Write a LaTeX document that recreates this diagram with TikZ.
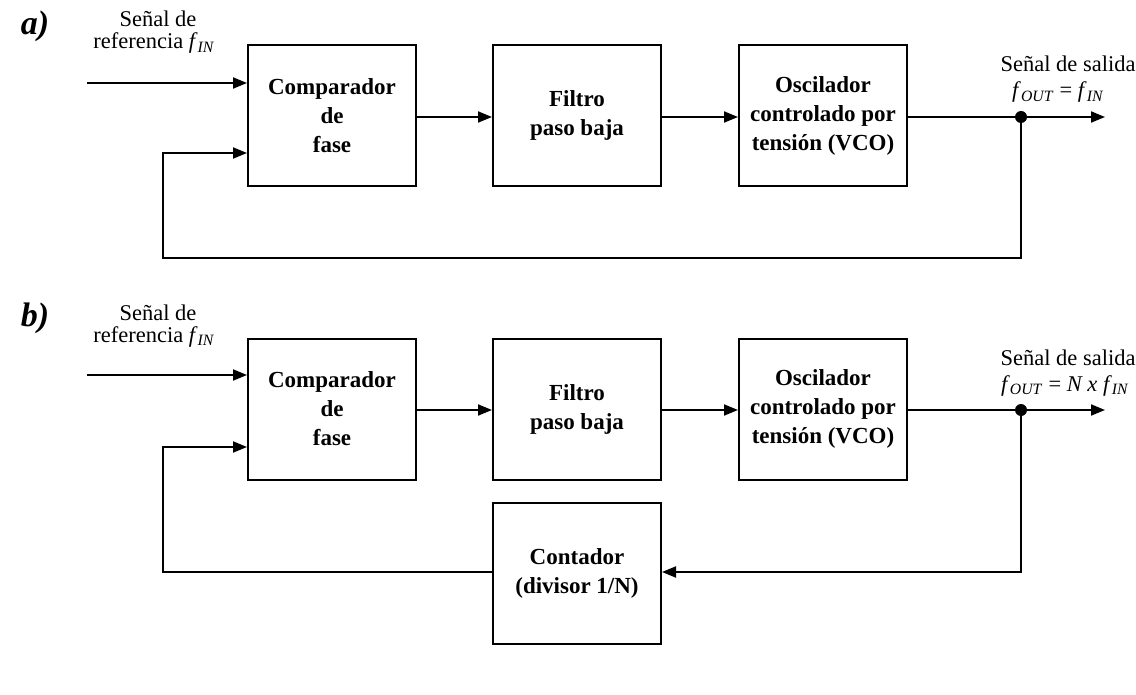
\documentclass[tikz,border=0pt]{standalone}
\usepackage{fontspec}
\setmainfont{Liberation Serif}
\usetikzlibrary{arrows.meta}
\begin{document}
\begin{tikzpicture}[x=1pt,y=-1pt,
  blk/.style={draw,line width=2pt,minimum width=168pt,minimum height=141pt,align=center,font=\fontsize{23}{29}\selectfont\bfseries,inner sep=0pt},
  wire/.style={line width=2pt},
  arr/.style={line width=2pt,-{Triangle[length=14pt,width=11pt]}},
  lbl/.style={font=\fontsize{22.5}{26}\selectfont,inner sep=0pt,anchor=base},
  tag/.style={font=\fontsize{34}{34}\selectfont\bfseries\itshape,inner sep=0pt},
  dot/.style={circle,fill,inner sep=0pt,minimum size=12pt}]
\useasboundingbox (0,0) rectangle (1136,695);
% ---------- a) ----------
\node[tag] (ta) at (35,26) {a)};
\node[lbl] (ra1) at (158,27) {Señal de};
\node[lbl] (ra2) at (154,49) {referencia \textit{f}\textsubscript{\textit{IN}}};
\node[blk] (c1) at (332,115.5) {Comparador\\de\\fase};
\node[blk] (f1) at (577,115.5) {Filtro\\paso baja};
\node[blk] (v1) at (823,115.5) {Oscilador\\controlado por\\tensión (VCO)};
\node[dot] (d1) at (1021,117) {};
\node[lbl] (sa1) at (1068,72) {Señal de salida};
\node[lbl] (sa2) at (1058,98) {\textit{f}\textsubscript{\textit{OUT}} = \textit{f}\textsubscript{\textit{IN}}};
\coordinate (ia) at (87,83);
\coordinate (oa) at (1105,117);
\coordinate (fa1) at (1021,258);
\coordinate (fa2) at (163,258);
\coordinate (fa3) at (163,153);
\draw[arr] (ia) -- (c1.west |- ia);
\draw[arr] (c1.east |- d1) -- (f1.west |- d1);
\draw[arr] (f1.east |- d1) -- (v1.west |- d1);
\draw[wire] (v1.east |- d1) -- (d1.center);
\draw[arr] (d1.center) -- (oa);
\draw[arr] (d1.center) -- (fa1) -- (fa2) -- (fa3) -- (c1.west |- fa3);
% ---------- b) ----------
\node[tag] (tb) at (35,318) {b)};
\node[lbl] (rb1) at (158,320) {Señal de};
\node[lbl] (rb2) at (154,342) {referencia \textit{f}\textsubscript{\textit{IN}}};
\node[blk] (c2) at (332,409) {Comparador\\de\\fase};
\node[blk] (f2) at (577,409) {Filtro\\paso baja};
\node[blk] (v2) at (823,409) {Oscilador\\controlado por\\tensión (VCO)};
\node[blk] (k2) at (577,573.5) {Contador\\(divisor 1/N)};
\node[dot] (d2) at (1021,410) {};
\node[lbl] (sb1) at (1068,365) {Señal de salida};
\node[lbl] (sb2) at (1065,391) {\textit{f}\textsubscript{\textit{OUT}} = \textit{N x f}\textsubscript{\textit{IN}}};
\coordinate (ib) at (87,375);
\coordinate (ob) at (1105,410);
\coordinate (fb1) at (1021,572);
\coordinate (fb2) at (163,572);
\coordinate (fb3) at (163,447);
\draw[arr] (ib) -- (c2.west |- ib);
\draw[arr] (c2.east |- d2) -- (f2.west |- d2);
\draw[arr] (f2.east |- d2) -- (v2.west |- d2);
\draw[wire] (v2.east |- d2) -- (d2.center);
\draw[arr] (d2.center) -- (ob);
\draw[arr] (d2.center) -- (fb1) -- (k2.east |- fb1);
\draw[arr] (k2.west |- fb1) -- (fb2) -- (fb3) -- (c2.west |- fb3);
\end{tikzpicture}
\end{document}
